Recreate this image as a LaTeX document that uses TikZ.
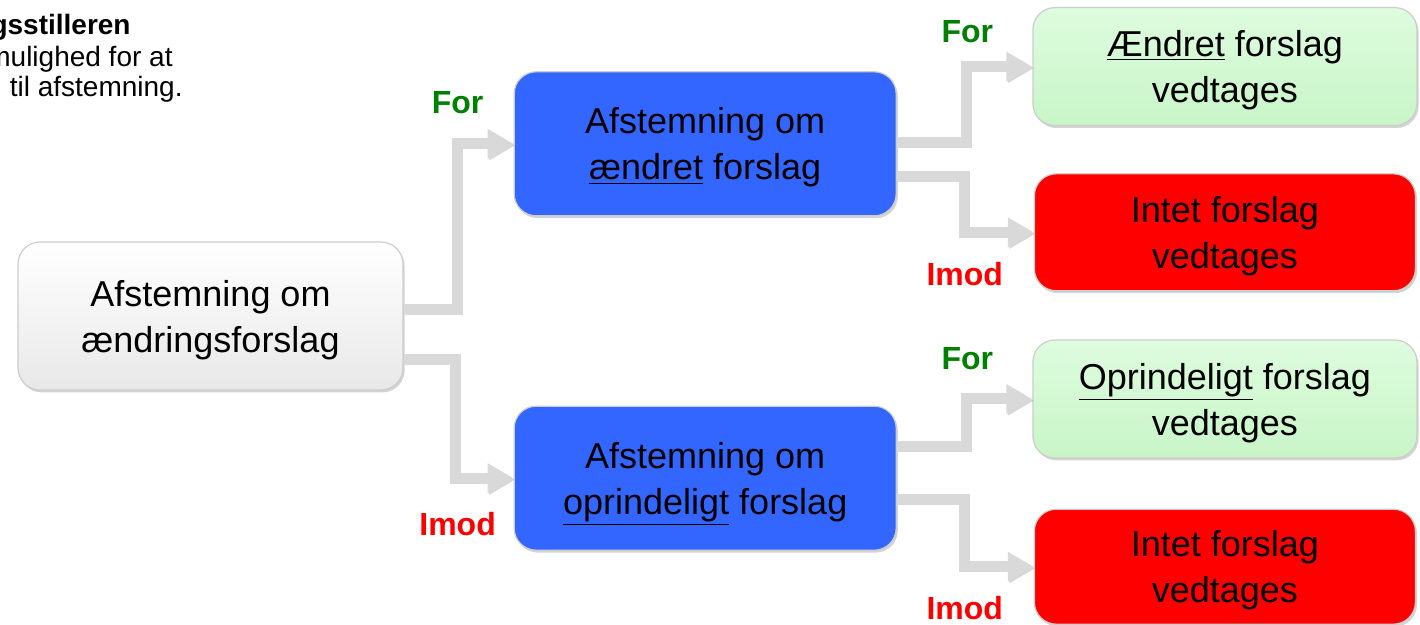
\documentclass[tikz,border=0pt]{standalone}
\usepackage{fontspec}
\setmainfont{Liberation Sans}
\usetikzlibrary{arrows.meta, positioning, shadows, calc}
\definecolor{blaaBoks}{RGB}{51,102,255}
\definecolor{groenTop}{RGB}{222,252,222}
\definecolor{groenBund}{RGB}{200,245,200}
\definecolor{roedBoks}{RGB}{255,0,0}
\definecolor{pilGraa}{RGB}{217,217,217}
\definecolor{forGroen}{RGB}{0,128,0}
\definecolor{imodRoed}{RGB}{255,0,0}
\definecolor{kantGraa}{RGB}{205,205,205}

\begin{document}
\begin{tikzpicture}
        [
        node distance=25pt and 55pt,
            boks/.style={
                rectangle,
                rounded corners=11pt,
                draw=kantGraa,
                line width=0.6pt,
                align=center,
                text depth=0pt,
                font=\fontsize{18pt}{23pt}\selectfont,
                drop shadow={shadow xshift=0.8pt, shadow yshift=-1.2pt, opacity=0.35}
            },
            startboks/.style={
                boks,
                top color=white,
                bottom color=black!9,
                minimum width=192.5pt,
                minimum height=74pt
            },
            afstemning/.style={
                boks,
                fill=blaaBoks,
                minimum width=191pt,
                minimum height=72pt
            },
            vedtaget/.style={
                boks,
                top color=groenTop,
                bottom color=groenBund,
                minimum width=192pt,
                minimum height=59pt
            },
            forkastet/.style={
                boks,
                fill=roedBoks,
                minimum width=190.5pt,
                minimum height=58.5pt
            },
            forMærke/.style={
                text=forGroen,
                font=\fontsize{16pt}{19pt}\selectfont\bfseries
            },
            imodMærke/.style={
                text=imodRoed,
                font=\fontsize{16pt}{19pt}\selectfont\bfseries
            },
            noteTekst/.style={
                inner sep=0pt,
                font=\fontsize{14pt}{16pt}\selectfont
            },
            pil/.style={
                -{Triangle[width=14pt,length=13pt]},
                line width=5.5pt,
                draw=pilGraa,
                preaction={draw=black!45, opacity=0.35, transform canvas={shift={(0.8pt,-0.8pt)}}}
            }
        ]
        \useasboundingbox (0,0) rectangle (710pt,-312.5pt);

        \node(note1) [noteTekst, font=\fontsize{14pt}{16pt}\selectfont\bfseries, anchor=base east] at (65.5pt,-17.5pt) {gsstilleren};
        \node(note2) [noteTekst, anchor=base east] at (86.5pt,-33.5pt) {mulighed for at};
        \node(note3) [noteTekst, anchor=base east] at (91.5pt,-48.5pt) {til afstemning.};

        \node(aendringsforslag) [startboks] at (105.25pt,-158pt) {Afstemning om\\ændringsforslag};
        \node(afstAendret) [afstemning, above right=12.5pt and 55pt of aendringsforslag] {Afstemning om\\\underline{ændret} forslag};
        \node(afstOprindeligt) [afstemning, below right=7.5pt and 55pt of aendringsforslag] {Afstemning om\\\underline{oprindeligt} forslag};

        \node(intetEt) [forkastet, right=68.5pt of afstAendret, yshift=-44.25pt] {Intet forslag\\vedtages};
        \node(aendretVedtages) [vedtaget, above=23.5pt of intetEt] {\underline{Ændret} forslag\\vedtages};
        \node(oprindeligtVedtages) [vedtaget, below=24pt of intetEt] {\underline{Oprindeligt} forslag\\vedtages};
        \node(intetTo) [forkastet, below=of oprindeligtVedtages, minimum height=57.5pt] {Intet forslag\\vedtages};

        \draw[pil] ([yshift=3pt]aendringsforslag.east) -| ([xshift=-28pt]afstAendret.west) -- (afstAendret.west);
        \draw[pil] ([yshift=-22pt]aendringsforslag.east) -| ([xshift=-29pt]afstOprindeligt.west) -- (afstOprindeligt.west);
        \draw[pil] ([yshift=0.5pt]afstAendret.east) -| ([xshift=-33pt]aendretVedtages.west) -- (aendretVedtages.west);
        \draw[pil] ([yshift=-16.5pt]afstAendret.east) -| ([xshift=-34.5pt]intetEt.west) -- (intetEt.west);
        \draw[pil] ([yshift=16pt]afstOprindeligt.east) -| ([xshift=-33pt]oprindeligtVedtages.west) -- (oprindeligtVedtages.west);
        \draw[pil] ([yshift=-10.5pt]afstOprindeligt.east) -| ([xshift=-34.5pt]intetTo.west) -- (intetTo.west);

        \node(forEt) [forMærke] at ([xshift=-28pt,yshift=20.5pt]afstAendret.west) {For};
        \node(imodEt) [imodMærke] at ([xshift=-28pt,yshift=-23pt]afstOprindeligt.west) {Imod};
        \node(forTo) [forMærke] at ([xshift=-32.5pt,yshift=17.5pt]aendretVedtages.west) {For};
        \node(imodTo) [imodMærke] at ([xshift=-34.5pt,yshift=-20.75pt]intetEt.west) {Imod};
        \node(forTre) [forMærke] at ([xshift=-32.5pt,yshift=20pt]oprindeligtVedtages.west) {For};
        \node(imodTre) [imodMærke] at ([xshift=-34.5pt,yshift=-20.75pt]intetTo.west) {Imod};
    \end{tikzpicture}
\end{document}
